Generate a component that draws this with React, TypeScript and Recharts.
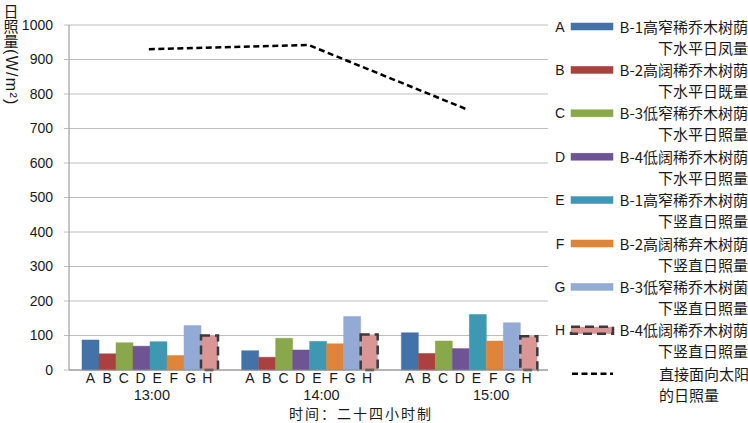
import { ComposedChart, Bar, Line, XAxis, YAxis, CartesianGrid } from 'recharts';

const times = ['13:00', '14:00', '15:00'];
const letters = ['A', 'B', 'C', 'D', 'E', 'F', 'G', 'H'];

const seriesA = [87, 56, 108];
const seriesB = [47, 37, 48];
const seriesC = [79, 92, 84];
const seriesD = [69, 58, 62];
const seriesE = [82, 83, 161];
const seriesF = [42, 76, 84];
const seriesG = [129, 155, 137];
const seriesH = [100, 103, 98];
const sunDirect = [930, 942, 754];

const yTicks = [0, 100, 200, 300, 400, 500, 600, 700, 800, 900, 1000];

const colors = ['#4372A8', '#AA413E', '#89A84B', '#6E5494', '#3D99B1', '#E0843A', '#93AAD5', '#D99694'];

const legendLines = [
  ['B-1高窄稀乔木树荫', '下水平日凤量'],
  ['B-2高阔稀乔木树荫', '下水平日既量'],
  ['B-3低窄稀乔木树荫', '下水平日照量'],
  ['B-4低阔稀乔木树荫', '下水平日照量'],
  ['B-1高窄稀乔木树荫', '下竖直日照量'],
  ['B-2高阔稀弃木树荫', '下竖直日照量'],
  ['B-3低窄稀乔木树菌', '下竖直日照量'],
  ['B-4低阔稀乔木树荫', '下竖直日照量'],
];
const sunLegend = ['直接面向太阳', '的日照量'];

const allSeries = [seriesA, seriesB, seriesC, seriesD, seriesE, seriesF, seriesG, seriesH];

const data = times.map((t, i) => {
  const row: Record<string, string | number> = { time: t, sun: sunDirect[i] };
  letters.forEach((l, j) => {
    row[l] = allSeries[j][i];
  });
  return row;
});

const W = 748;
const H = 423;
const PLOT_LEFT = 69;
const PLOT_RIGHT = 548;
const PLOT_TOP = 25;
const PLOT_BOTTOM = 370;
const CAT_GAP = 13;
const BAND = (PLOT_RIGHT - PLOT_LEFT) / times.length;
const BAR_W = (BAND - CAT_GAP * 2) / letters.length;
// the group labels in the source drift to the right a little
const LABEL_SHIFT = [3, 13, 23];

const FONT = '"Liberation Sans", "Noto Sans CJK SC", sans-serif';
const CJK = '"Noto Sans CJK SC", sans-serif';
const TEXT = '#1a1a1a';

function TimeTick(props: any) {
  const { x, payload, index } = props;
  return (
    <g>
      {letters.map((l, i) => (
        <text
          key={l}
          x={x + (i - 3.5) * BAR_W}
          y={PLOT_BOTTOM + 12.5}
          textAnchor="middle"
          fontSize={14}
          fontFamily={FONT}
          fill={TEXT}
        >
          {l}
        </text>
      ))}
      <text
        x={x + LABEL_SHIFT[index ?? 0]}
        y={PLOT_BOTTOM + 29.5}
        textAnchor="middle"
        fontSize={14.5}
        fontFamily={FONT}
        fill={TEXT}
      >
        {payload.value}
      </text>
    </g>
  );
}

function Overlay() {
  const top = 26.5;
  const step = 43.4;
  return (
    <svg
      width={W}
      height={H}
      style={{ position: 'absolute', left: 0, top: 0, pointerEvents: 'none' }}
    >
      {/* y axis title, written top to bottom */}
      <text x={11} y={4} fill={TEXT} style={{ writingMode: 'vertical-rl' }}>
        <tspan fontFamily={CJK} fontSize={15}>日照量</tspan>
        <tspan fontFamily={FONT} fontSize={16} letterSpacing={1.3}>(W/m²)</tspan>
      </text>
      {/* x axis title */}
      <text
        x={361}
        y={419}
        textAnchor="middle"
        fontSize={14}
        letterSpacing={2}
        fontFamily={CJK}
        fill={TEXT}
      >
        时间：二十四小时制
      </text>
      {/* legend */}
      {letters.map((l, i) => {
        const cy = top + i * step;
        return (
          <g key={l}>
            <text x={560} y={cy + 5} textAnchor="middle" fontSize={14} fontFamily={FONT} fill={TEXT}>
              {l}
            </text>
            <rect
              x={571}
              y={cy - 3.5}
              width={42}
              height={7}
              fill={colors[i]}
              stroke={i === 7 ? '#3a3a3a' : colors[i]}
              strokeWidth={i === 7 ? 2.5 : 0.5}
              strokeDasharray={i === 7 ? '9 5' : undefined}
            />
            <text x={748} y={cy + 6} textAnchor="end" fontSize={15} fontFamily={CJK} fill={TEXT}>
              {legendLines[i][0]}
            </text>
            <text x={748} y={cy + 27} textAnchor="end" fontSize={15} fontFamily={CJK} fill={TEXT}>
              {legendLines[i][1]}
            </text>
          </g>
        );
      })}
      <line
        x1={572}
        x2={613}
        y1={top + 8 * step}
        y2={top + 8 * step}
        stroke="#000"
        strokeWidth={2.5}
        strokeDasharray="6 3.5"
      />
      <text x={659} y={top + 8 * step + 6} fontSize={15} fontFamily={CJK} fill={TEXT}>
        {sunLegend[0]}
      </text>
      <text x={659} y={top + 8 * step + 27} fontSize={15} fontFamily={CJK} fill={TEXT}>
        {sunLegend[1]}
      </text>
    </svg>
  );
}

export default function App() {
  return (
    <div style={{ position: 'absolute', left: 0, top: 0, width: W, height: H, background: '#fff' }}>
      <ComposedChart
        width={W}
        height={H}
        data={data}
        margin={{ top: PLOT_TOP, right: W - PLOT_RIGHT, left: 14, bottom: 0 }}
        barCategoryGap={CAT_GAP}
        barGap={0}
      >
        <CartesianGrid vertical={false} stroke="#BEBEBE" strokeWidth={1.2} />
        <XAxis
          dataKey="time"
          height={H - PLOT_BOTTOM}
          tickLine={false}
          axisLine={{ stroke: '#8C8C8C' }}
          tick={<TimeTick />}
          interval={0}
        />
        <YAxis
          width={55}
          domain={[0, 1000]}
          ticks={yTicks}
          interval={0}
          tickSize={5}
          tickMargin={11}
          tickLine={{ stroke: '#BEBEBE' }}
          axisLine={{ stroke: '#8C8C8C' }}
          tick={{ fontSize: 14, fill: TEXT, fontFamily: FONT }}
        />
        {letters.map((l, i) => (
          <Bar
            key={l}
            dataKey={l}
            fill={colors[i]}
            stroke={i === 7 ? '#3a3a3a' : colors[i]}
            strokeWidth={i === 7 ? 2.5 : 0.5}
            strokeDasharray={i === 7 ? '9 5' : undefined}
            isAnimationActive={false}
          />
        ))}
        <Line
          dataKey="sun"
          type="linear"
          stroke="#000"
          strokeWidth={2.5}
          strokeDasharray="6 3.5"
          dot={false}
          isAnimationActive={false}
        />
      </ComposedChart>
      <Overlay />
    </div>
  );
}
